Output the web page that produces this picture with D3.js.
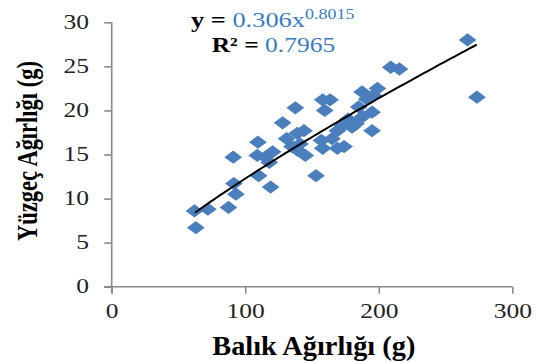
<!DOCTYPE html>
<html lang="en">
<head>
  <meta charset="UTF-8">
  <title>Balık - Yüzgeç Ağırlığı</title>
  <script src="https://d3js.org/d3.v7.min.js"></script>
  <style>
    body { margin: 0; background: #fff; }
    svg { display: block; font-family: "Liberation Serif", "Times New Roman", serif; }
    .axis path, .axis line { stroke: #8a8a8a; stroke-width: 1.6px; }
    .axis text { fill: #222; font-size: 22px; font-family: "Liberation Serif", "Times New Roman", serif; }
  </style>
</head>
<body>
  <svg id="chart" width="542" height="362"></svg>
  <script>
    // Balık ağırlığı (g) vs yüzgeç ağırlığı (g)
    const fishWeight = [62, 63, 72, 87.5, 91, 91.5, 93, 109.5, 109, 110, 119, 115, 120.5, 118,
      128, 137.5, 131, 135, 139, 144, 141, 145, 139, 153, 158, 159.5, 163.5, 157, 158, 165,
      169, 174, 169, 173, 183, 185, 187.5, 191, 195, 195, 199, 196, 209, 215.5, 266.5, 273.5,
      188, 180, 177];
    const finWeight = [8.6, 6.7, 8.8, 9.0, 14.7, 11.7, 10.5, 16.4, 14.9, 12.6, 11.3, 14.7, 15.3, 14.1,
      18.6, 20.3, 16.8, 15.9, 17.4, 17.7, 16.2, 14.9, 15.5, 12.6, 21.2, 20.0, 21.2, 16.6, 15.7, 16.8,
      15.7, 15.9, 17.7, 18.3, 18.5, 20.4, 22.1, 21.3, 19.8, 17.7, 22.5, 21.7, 24.9, 24.7, 28.0, 21.5,
      19.3, 18.1, 19.0];
    const xTicks = [0, 100, 200, 300];
    const yTicks = [0, 5, 10, 15, 20, 25, 30];
    const fit = { a: 0.306, b: 0.8015, r2: 0.7965, from: 62.4, to: 273.4 };

    const points = fishWeight.map((v, i) => ({ x: v, y: finWeight[i] }));
    const sx = 1.16; // the original text is stretched sideways

    const svg = d3.select("#chart");
    const x = d3.scaleLinear().domain([0, 300]).range([111.7, 512.3]);
    const y = d3.scaleLinear().domain([0, 30]).range([286.7, 22.3]);

    svg.append("g")
      .attr("class", "axis")
      .attr("transform", "translate(0,286.7)")
      .call(d3.axisBottom(x).tickValues(xTicks).tickSize(7).tickSizeOuter(0).tickPadding(9))
      .call(g => g.select(".domain").attr("d", "M104,0H512.3"))
      .call(g => g.selectAll(".tick text").attr("transform", `scale(${sx},1)`));

    svg.append("g")
      .attr("class", "axis")
      .attr("transform", "translate(111.7,0)")
      .call(d3.axisLeft(y).tickValues(yTicks).tickSize(7.5).tickSizeOuter(0).tickPadding(12))
      .call(g => g.select(".domain").attr("d", "M0,22.3V293.5"))
      .call(g => g.selectAll(".tick text").attr("transform", `scale(${sx},1)`).attr("dy", "0.28em"));

    // diamond markers
    const diamond = d3.symbol().type(d3.symbolDiamond2).size(145);
    svg.append("g")
      .selectAll("path")
      .data(points)
      .join("path")
        .attr("d", diamond)
        .attr("fill", "#4a7ebc")
        .attr("transform", d => `translate(${x(d.x)},${y(d.y)}) scale(1.18,0.88)`);

    // power trendline
    const xs = d3.range(fit.from, fit.to, 2).concat([fit.to]);
    const line = d3.line().x(d => x(d)).y(d => y(fit.a * Math.pow(d, fit.b)));
    svg.append("path")
      .datum(xs)
      .attr("d", line)
      .attr("fill", "none")
      .attr("stroke", "#000")
      .attr("stroke-width", 2);

    // equation
    const eq = svg.append("text")
      .attr("transform", `translate(191,26.7) scale(1.2,1)`).attr("font-size", 22);
    eq.append("tspan").attr("font-weight", "bold").text("y = ");
    eq.append("tspan").attr("fill", "#3a7cc0").text("0.306x");
    eq.append("tspan").attr("fill", "#3a7cc0").attr("font-size", 15).attr("dy", -7.5).text("0.8015");

    const r2 = svg.append("text")
      .attr("transform", `translate(211.7,51.7) scale(1.16,1)`).attr("font-size", 22);
    r2.append("tspan").attr("font-weight", "bold").text("R² = ");
    r2.append("tspan").attr("fill", "#3a7cc0").text(fit.r2);

    // axis titles
    svg.append("text")
      .attr("transform", "translate(313.8,355) scale(1.05,1)")
      .attr("text-anchor", "middle")
      .attr("font-weight", "bold").attr("font-size", 27)
      .text("Balık Ağırlığı (g)");

    svg.append("text")
      .attr("transform", "translate(37,151) rotate(-90) scale(1,1.3)")
      .attr("text-anchor", "middle")
      .attr("font-weight", "bold").attr("font-size", 22.5)
      .text("Yüzgeç Ağırlığı (g)");
  </script>
</body>
</html>
